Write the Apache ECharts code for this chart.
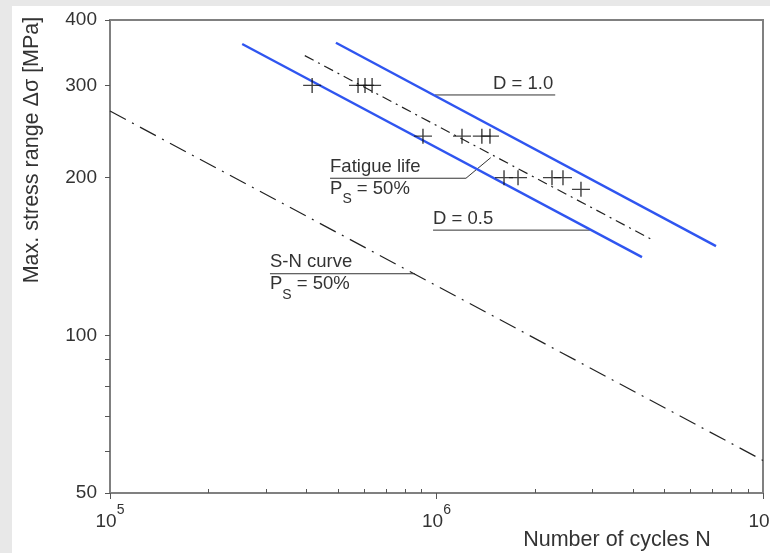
<!DOCTYPE html>
<html><head><meta charset="utf-8">
<script src="https://cdn.jsdelivr.net/npm/echarts@6/dist/echarts.min.js"></script>
<style>html,body{margin:0;padding:0;background:#e8e8e8}#c{width:770px;height:553px}</style>
</head><body><div id="c"></div>
<script>
// ---- tick values ----
const xTickLabels = [1e5, 1e6, 1e7];
const xTicksMinor = [2e5,3e5,4e5,5e5,6e5,7e5,8e5,9e5,2e6,3e6,4e6,5e6,6e6,7e6,8e6,9e6];
const yTickLabels = [50, 100, 200, 300, 400];
const yTicksMinor = [60, 70, 80, 90];

// ---- curves [N, stress range] ----
const snCurve     = [[1e5, 268], [1e7, 57.7]];
const fatigueLife = [[3.95e5, 342], [4.6e6, 152]];
const lineD10     = [[4.92e5, 362], [7.18e6, 148]];
const lineD05     = [[2.54e5, 360], [4.26e6, 141]];

// ---- test results ----
const testN = [4.16e5, 5.75e5, 6.04e5, 6.35e5, 9.09e5, 1.197e6, 1.377e6, 1.458e6, 1.61e6, 1.777e6, 2.258e6, 2.44e6, 2.77e6];
const testS = [300, 300, 300, 300, 240, 240, 240, 240, 200, 200, 200, 200, 190];

// ---- annotation leaders [N, stress] ----
const leaderD10 = [[9.89e5, 287.7], [2.31e6, 287.7]];
const leaderD05 = [[9.76e5, 158.8], [2.95e6, 158.8]];
const leaderFat = [[4.72e5, 199.5], [1.231e6, 199.5], [1.466e6, 218.4]];
const leaderSN  = [[3.09e5, 131.1], [8.59e5, 131.1]];

const L = Math.log10;
const tr = arr => arr.map(p => [L(p[0]), L(p[1])]);
const FONT = "'Liberation Sans', Arial, sans-serif";
const TXT = '#333';
const AX = '#808080';
const BLUE = '#2f55f0';

const chart = echarts.init(document.getElementById('c'));

const leaderStyle = {type: 'line', symbol: 'none', silent: true, z: 3,
  lineStyle: {color: '#333', width: 1}};

chart.setOption({
  backgroundColor: '#e8e8e8',
  animation: false,
  textStyle: {fontFamily: FONT},
  grid: {left: 110, right: 7, top: 20, bottom: 60, show: true, containLabel: false, outerBoundsMode: 'none',
         backgroundColor: '#fff', borderColor: AX, borderWidth: 2},
  xAxis: [{
    type: 'value', min: L(1e5), max: L(1e7),
    splitLine: {show: false},
    axisLine: {lineStyle: {color: AX, width: 2}},
    axisTick: {customValues: xTickLabels.map(L), length: 6, lineStyle: {color: '#555'}},
    axisLabel: {customValues: xTickLabels.map(L), margin: 10, hideOverlap: false,
      formatter: v => '{b|10}{s|' + Math.round(v) + '}',
      rich: {
        b: {fontSize: 19, color: TXT, fontFamily: FONT, padding: [9, 0, 0, 0], lineHeight: 20, verticalAlign: 'top'},
        s: {fontSize: 14, color: TXT, fontFamily: FONT, lineHeight: 14, verticalAlign: 'top'}
      }}
  }, {
    type: 'value', min: L(1e5), max: L(1e7), position: 'bottom',
    splitLine: {show: false}, axisLine: {show: false},
    axisTick: {customValues: xTicksMinor.map(L), length: 4, inside: true, lineStyle: {color: '#555'}},
    axisLabel: {show: false}
  }],
  yAxis: {
    type: 'value', min: L(50), max: L(400),
    splitLine: {show: false},
    axisLine: {lineStyle: {color: AX, width: 2}},
    axisTick: {customValues: yTickLabels.concat(yTicksMinor).map(L), length: 5, lineStyle: {color: '#555'}},
    axisLabel: {customValues: yTickLabels.map(L), margin: 13, fontSize: 19, color: TXT,
      formatter: v => String(Math.round(Math.pow(10, v)))}
  },
  series: [
    {type: 'line', data: tr(snCurve), symbol: 'none', z: 3,
     lineStyle: {color: '#222', width: 1.2, type: [18, 7, 2, 7]}},
    {type: 'line', data: tr(fatigueLife), symbol: 'none', z: 3,
     lineStyle: {color: '#222', width: 1.2, type: [10, 5, 2, 5]}},
    {type: 'line', data: tr(lineD10), symbol: 'none', z: 4,
     lineStyle: {color: BLUE, width: 2.4}},
    {type: 'line', data: tr(lineD05), symbol: 'none', z: 4,
     lineStyle: {color: BLUE, width: 2.4}},
    Object.assign({data: tr(leaderD10)}, leaderStyle),
    Object.assign({data: tr(leaderD05)}, leaderStyle),
    Object.assign({data: tr(leaderFat)}, leaderStyle),
    Object.assign({data: tr(leaderSN)}, leaderStyle),
    {type: 'scatter', z: 5,
     data: testN.map((n, i) => [L(n), L(testS[i])]),
     symbol: 'path://M5,0 L5,10 M0,5 L10,5', symbolSize: [18, 15],
     itemStyle: {color: 'transparent', borderColor: '#111', borderWidth: 1.3}}
  ]
});

// ---- texts positioned from data coordinates ----
const px = p => chart.convertToPixel({xAxisIndex: 0, yAxisIndex: 0}, [L(p[0]), L(p[1])]);
const base = {fontFamily: FONT, fontSize: 18.5, fill: TXT};
const psRich = {
  b: {fontFamily: FONT, fontSize: 18.5, fill: TXT, color: TXT, lineHeight: 20, verticalAlign: 'top'},
  u: {fontFamily: FONT, fontSize: 14, fill: TXT, color: TXT, lineHeight: 14, padding: [13, 0, 0, 0], verticalAlign: 'top'}
};
function txt(p, s, align, vAlign, dx, dy, rich) {
  const q = px(p);
  const st = Object.assign({}, base, {text: s, x: q[0] + dx, y: q[1] + dy, align: align, verticalAlign: vAlign});
  if (rich) st.rich = rich;
  return {type: 'text', style: st, z: 10};
}
const psText = '{b|P}{u|S}{b| = 50%}';
const titleFont = Object.assign({}, base, {fontSize: 21.5});
const g = [
  {type: 'rect', left: 12, top: 6, shape: {width: 758, height: 547}, style: {fill: '#fff'}, z: -10, silent: true},
  {type: 'text', x: 32, y: 150, rotation: Math.PI / 2,
   style: Object.assign({}, titleFont, {text: 'Max. stress range Δσ [MPa]', align: 'center', verticalAlign: 'middle'})},
  {type: 'text', style: Object.assign({}, titleFont, {text: 'Number of cycles N', x: 617, y: 540, align: 'center', verticalAlign: 'middle'})},
  txt(leaderD10[1], 'D = 1.0', 'right', 'bottom', -2, -2),
  txt(leaderD05[0], 'D = 0.5', 'left', 'bottom', 0, -2),
  txt(leaderFat[0], 'Fatigue life', 'left', 'bottom', 0, -2),
  txt(leaderFat[0], psText, 'left', 'top', 0, 1, psRich),
  txt(leaderSN[0], 'S-N curve', 'left', 'bottom', 0, -2),
  txt(leaderSN[0], psText, 'left', 'top', 0, 1, psRich)
];
chart.setOption({graphic: g});
</script></body></html>
